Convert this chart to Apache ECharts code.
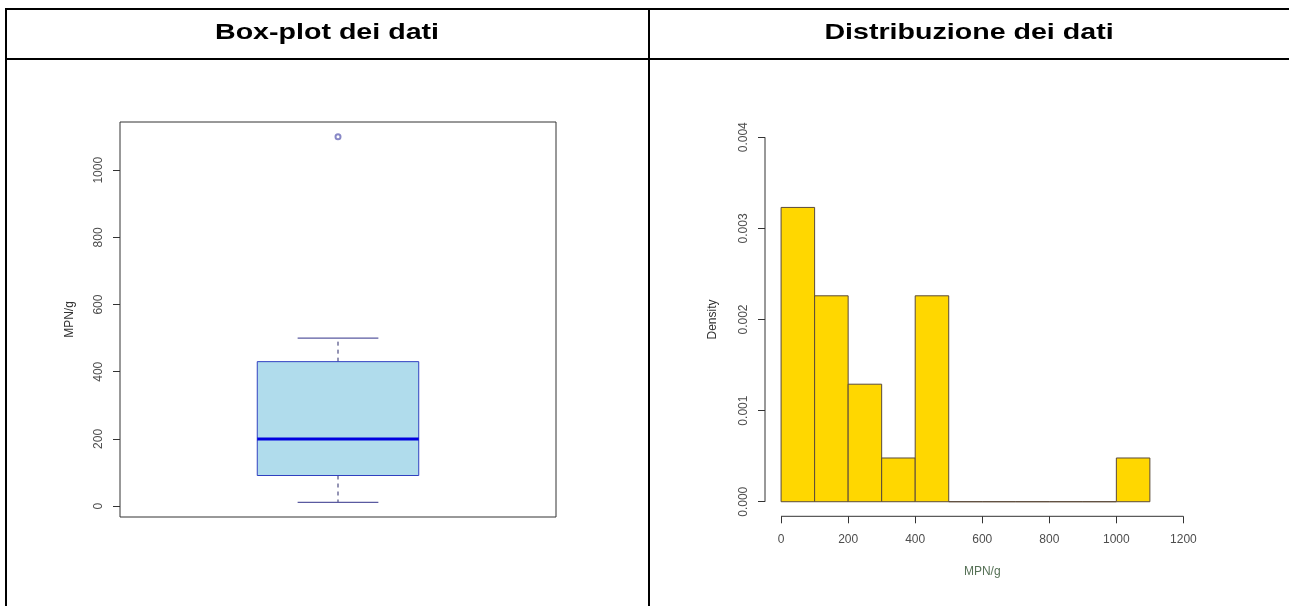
<!DOCTYPE html>
<html>
<head>
<meta charset="utf-8">
<script src="https://cdn.jsdelivr.net/npm/echarts@6/dist/echarts.min.js"></script>
<style>
  html, body { margin: 0; padding: 0; background: #fff; }
  #chart { width: 1289px; height: 606px; }
</style>
</head>
<body>
<div id="chart"></div>
<script>
// Panel titles
const panelTitles = ['Box-plot dei dati', 'Distribuzione dei dati'];

// Box-plot summary of MPN/g: [lower whisker, Q1, median, Q3, upper whisker]
const boxStats = [11, 91, 200, 430, 500];
const outliers = [1100];
const boxTicks = [0, 200, 400, 600, 800, 1000];

// Histogram of MPN/g (density per bin)
const binEdges = [0, 100, 200, 300, 400, 500, 600, 700, 800, 900, 1000, 1100];
const densities = [0.00323, 0.00226, 0.00129, 0.00048, 0.00226, 0, 0, 0, 0, 0, 0.00048];
const histXTicks = [0, 200, 400, 600, 800, 1000, 1200];
const histYTicks = [0, 0.001, 0.002, 0.003, 0.004];

const axisTitle = 'MPN/g';
const densityTitle = 'Density';

const FONT = '"Liberation Sans", Arial, sans-serif';
const LABEL_COLOR = '#4d4d4d';
const AXIS_COLOR = '#333333';

// R-style 4% padding around the plotted ranges
function padRange(lo, hi) { const d = (hi - lo) * 0.04; return [lo - d, hi + d]; }
const boxYRange = padRange(boxStats[0], Math.max(...outliers));
const histXRange = padRange(histXTicks[0], histXTicks[histXTicks.length - 1]);
const histYRange = padRange(histYTicks[0], histYTicks[histYTicks.length - 1]);

const histData = densities.map((d, i) => [binEdges[i], binEdges[i + 1], d]);

const chart = echarts.init(document.getElementById('chart'), null, { renderer: 'canvas' });

const tickStyle = { show: true, inside: false, length: 7, lineStyle: { color: AXIS_COLOR, width: 1 } };
const labelStyle = { color: LABEL_COLOR, fontFamily: FONT, fontSize: 12 };
const hiddenLine = { show: false, onZero: false };

chart.setOption({
  animation: false,
  backgroundColor: '#ffffff',
  grid: [
    { left: 120, top: 122, width: 436, height: 395, show: true, borderColor: AXIS_COLOR, borderWidth: 1, backgroundColor: 'transparent' },
    { left: 765, top: 122.7, width: 434.5, height: 393.6, show: false }
  ],
  xAxis: [
    { gridIndex: 0, type: 'value', min: 0.46, max: 1.54, show: false },
    {
      gridIndex: 1, type: 'value', min: histXRange[0], max: histXRange[1],
      axisLine: hiddenLine, splitLine: { show: false },
      axisTick: Object.assign({ customValues: histXTicks }, tickStyle),
      axisLabel: Object.assign({ customValues: histXTicks, margin: 17, formatter: v => String(v) }, labelStyle),
      name: axisTitle, nameLocation: 'middle', nameGap: 49,
      nameTextStyle: { color: '#557055', fontFamily: FONT, fontSize: 12 }
    }
  ],
  yAxis: [
    {
      gridIndex: 0, type: 'value', min: boxYRange[0], max: boxYRange[1],
      axisLine: hiddenLine, splitLine: { show: false },
      axisTick: Object.assign({ customValues: boxTicks }, tickStyle),
      axisLabel: Object.assign({ customValues: boxTicks, rotate: 90, margin: 15, formatter: v => String(v) }, labelStyle),
      name: axisTitle, nameLocation: 'middle', nameGap: 44, nameRotate: 90,
      nameTextStyle: { color: '#333', fontFamily: FONT, fontSize: 12 }
    },
    {
      gridIndex: 1, type: 'value', min: histYRange[0], max: histYRange[1],
      axisLine: hiddenLine, splitLine: { show: false },
      axisTick: Object.assign({ customValues: histYTicks }, tickStyle),
      axisLabel: Object.assign({ customValues: histYTicks, rotate: 90, margin: 15,
        formatter: v => v.toFixed(3) }, labelStyle),
      name: densityTitle, nameLocation: 'middle', nameGap: 46, nameRotate: 90,
      nameTextStyle: { color: '#333', fontFamily: FONT, fontSize: 12 }
    }
  ],
  series: [
    // Box, median, whiskers and caps
    {
      type: 'custom', xAxisIndex: 0, yAxisIndex: 0, clip: false,
      data: [[1].concat(boxStats)],
      renderItem: function (params, api) {
        const x = api.value(0);
        const lo = api.value(1), q1 = api.value(2), med = api.value(3), q3 = api.value(4), hi = api.value(5);
        const halfBox = 0.2, halfCap = 0.1;
        const tl = api.coord([x - halfBox, q3]);
        const br = api.coord([x + halfBox, q1]);
        const m0 = api.coord([x - halfBox, med]), m1 = api.coord([x + halfBox, med]);
        const cLoL = api.coord([x - halfCap, lo]), cLoR = api.coord([x + halfCap, lo]);
        const cHiL = api.coord([x - halfCap, hi]), cHiR = api.coord([x + halfCap, hi]);
        const c = api.coord([x, 0])[0];
        const pLo = api.coord([x, lo])[1], pQ1 = br[1], pQ3 = tl[1], pHi = api.coord([x, hi])[1];
        const dash = { stroke: '#2a2a6a', lineWidth: 1, lineDash: [4, 4] };
        const cap = { stroke: '#5a5aa0', lineWidth: 1.2 };
        return {
          type: 'group',
          children: [
            { type: 'line', shape: { x1: c, y1: pQ1, x2: c, y2: pLo }, style: dash },
            { type: 'line', shape: { x1: c, y1: pQ3, x2: c, y2: pHi }, style: dash },
            { type: 'line', shape: { x1: cLoL[0], y1: cLoL[1], x2: cLoR[0], y2: cLoR[1] }, style: cap },
            { type: 'line', shape: { x1: cHiL[0], y1: cHiL[1], x2: cHiR[0], y2: cHiR[1] }, style: cap },
            { type: 'rect', shape: { x: tl[0], y: tl[1], width: br[0] - tl[0], height: br[1] - tl[1] },
              style: { fill: '#b0dcec', stroke: '#3040c0', lineWidth: 1 } },
            { type: 'line', shape: { x1: m0[0], y1: m0[1], x2: m1[0], y2: m1[1] },
              style: { stroke: '#0000e0', lineWidth: 3 } }
          ]
        };
      }
    },
    // Outliers
    {
      type: 'scatter', xAxisIndex: 0, yAxisIndex: 0,
      data: outliers.map(v => [1, v]),
      symbol: 'emptyCircle', symbolSize: 5,
      itemStyle: { color: '#6a6ab8', borderColor: '#6a6ab8', borderWidth: 0.8 }
    },
    // Histogram bars
    {
      type: 'custom', xAxisIndex: 1, yAxisIndex: 1, clip: false,
      data: histData,
      renderItem: function (params, api) {
        const p0 = api.coord([api.value(0), api.value(2)]);
        const p1 = api.coord([api.value(1), 0]);
        return {
          type: 'rect',
          shape: { x: p0[0], y: p0[1], width: p1[0] - p0[0], height: p1[1] - p0[1] },
          style: { fill: '#ffd700', stroke: '#5a4a3a', lineWidth: 1 }
        };
      }
    },
    // Histogram axis lines spanning the tick range
    {
      type: 'custom', xAxisIndex: 1, yAxisIndex: 1, clip: false,
      data: [[0]],
      renderItem: function (params, api) {
        const xa = api.coord([histXTicks[0], histYRange[0]]);
        const xb = api.coord([histXTicks[histXTicks.length - 1], histYRange[0]]);
        const ya = api.coord([histXRange[0], histYTicks[0]]);
        const yb = api.coord([histXRange[0], histYTicks[histYTicks.length - 1]]);
        const st = { stroke: AXIS_COLOR, lineWidth: 1 };
        return {
          type: 'group',
          children: [
            { type: 'line', shape: { x1: xa[0], y1: xa[1], x2: xb[0], y2: xb[1] }, style: st },
            { type: 'line', shape: { x1: ya[0], y1: ya[1], x2: yb[0], y2: yb[1] }, style: st }
          ]
        };
      }
    }
  ],
  graphic: [
    // Table rules
    { type: 'line', shape: { x1: 5, y1: 9, x2: 1289, y2: 9 }, style: { stroke: '#000', lineWidth: 2 } },
    { type: 'line', shape: { x1: 5, y1: 59, x2: 1289, y2: 59 }, style: { stroke: '#000', lineWidth: 2 } },
    { type: 'line', shape: { x1: 6, y1: 8, x2: 6, y2: 606 }, style: { stroke: '#000', lineWidth: 2 } },
    { type: 'line', shape: { x1: 649, y1: 8, x2: 649, y2: 606 }, style: { stroke: '#000', lineWidth: 2 } },
    // Panel headings
    { type: 'text', x: 327, y: 33, scaleX: 1.3,
      style: { text: panelTitles[0], font: 'bold 22px ' + FONT, fill: '#000', align: 'center', verticalAlign: 'middle' } },
    { type: 'text', x: 969, y: 33, scaleX: 1.3,
      style: { text: panelTitles[1], font: 'bold 22px ' + FONT, fill: '#000', align: 'center', verticalAlign: 'middle' } }
  ]
});
</script>
</body>
</html>
